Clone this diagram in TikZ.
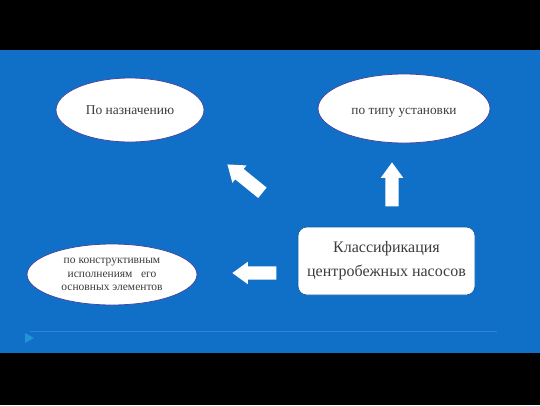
\documentclass[tikz,border=0pt]{standalone}
\usepackage{fontspec}
\setmainfont{Liberation Serif}
\usetikzlibrary{shapes.geometric,shapes.arrows}

\definecolor{slideblue}{RGB}{16,112,200}
\definecolor{rimblue}{RGB}{70,70,160}
\definecolor{textgray}{RGB}{60,60,60}

\begin{document}
\begin{tikzpicture}[x=1pt,y=-1pt,
	oval/.style={shape=ellipse,draw=rimblue,fill=white,line width=0.8pt,inner sep=0pt,text=textgray,align=center},
	blockarrow/.style={shape=single arrow,fill=white,draw=none,inner sep=0pt,inner ysep=6.5pt,single arrow head extend=4.5pt,single arrow tip angle=72,rotate=#1}]

	% slide background
	\fill[black] (0,0) rectangle (540,405);
	\fill[slideblue] (0,50) rectangle (540,353);
	\draw[line width=0.4pt,color=slideblue!85!white] (30,331) -- (497,331);
	\fill[color=cyan!60!slideblue] (25,333) -- (34,338) -- (25,343) -- cycle;

	\node[oval,minimum width=148pt,minimum height=64pt,font=\fontsize{13.5}{15}\selectfont] (purpose) at (130,110)
		{По назначению};
	\node[oval,minimum width=172pt,minimum height=69pt,font=\fontsize{13.3}{15}\selectfont,
		text height=14pt,text depth=3pt] (mount) at (404,108.5)
		{по типу установки};
	\node[oval,minimum width=170pt,minimum height=61pt,font=\fontsize{11.5}{13.5}\selectfont] (design) at (112,274.5)
		{по конструктивным\\исполнениям\ \ \ его\\основных элементов};
	\node[shape=rectangle,rounded corners=9pt,draw=slideblue!80!black,fill=white,line width=0.6pt,
		minimum width=177pt,minimum height=68pt,inner sep=0pt,text=textgray,align=center,
		font=\fontsize{16}{24}\selectfont] (pumps) at (386.5,261)
		{Классификация\\центробежных насосов};

	\node[blockarrow=90,minimum height=44pt] (toMount) at (392,189) {};
	\node[blockarrow=141,minimum height=45pt] (toPurpose) at (248.5,181.5) {};
	\node[blockarrow=180,minimum height=44pt] (toDesign) at (259,273) {};
\end{tikzpicture}
\end{document}
